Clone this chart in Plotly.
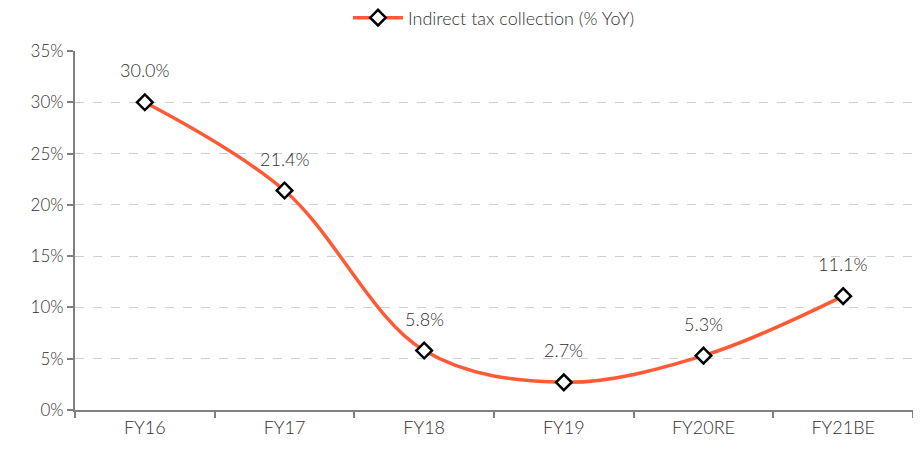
import plotly.graph_objects as go

categories = ["FY16", "FY17", "FY18", "FY19", "FY20RE", "FY21BE"]
values = [30.0, 21.4, 5.8, 2.7, 5.3, 11.1]
labels = ["30.0%", "21.4%", "5.8%", "2.7%", "5.3%", "11.1%"]
series_name = "Indirect tax collection (% YoY)"

FONT = "Lato"
TXT = "#303030"

fig = go.Figure()
fig.add_trace(go.Scatter(
    x=categories, y=values, name=series_name,
    mode="lines+markers",
    line=dict(color="#FF5A36", width=3.5, shape="spline", smoothing=1.0),
    marker=dict(symbol="diamond", size=12, color="white",
                line=dict(color="black", width=2.5)),
    cliponaxis=False,
))

for c, v, t in zip(categories, values, labels):
    fig.add_annotation(x=c, y=v, text=t, showarrow=False, yshift=32,
                       font=dict(family=FONT, size=18, color=TXT, weight=300))

fig.update_layout(
    width=913, height=442,
    margin=dict(l=67, r=8, t=43, b=40, autoexpand=False),
    paper_bgcolor="white", plot_bgcolor="white",
    font=dict(family=FONT, size=17, color=TXT, weight=300),
    showlegend=True,
    legend=dict(orientation="h", x=0.5, xanchor="center", y=1.092, yanchor="middle",
                yref="paper", itemwidth=50,
                font=dict(size=18, color=TXT, weight=300)),
    xaxis=dict(
        type="category", range=[-0.5, 5.5],
        showline=True, linecolor="#808080", linewidth=2,
        ticks="outside", tickson="boundaries", ticklen=6, tickcolor="#808080", tickwidth=2,
        showgrid=False, tickfont=dict(size=18, color=TXT, weight=300),
    ),
    yaxis=dict(
        range=[0, 35], dtick=5, ticksuffix="%",
        showline=True, linecolor="#808080", linewidth=2,
        ticks="outside", ticklen=6, tickcolor="#808080", tickwidth=2,
        showgrid=True, gridcolor="#d0d0d0", griddash="dash", gridwidth=1.2,
        zeroline=False, tickfont=dict(size=17, color=TXT, weight=300),
    ),
)

fig.write_html("out.html")
